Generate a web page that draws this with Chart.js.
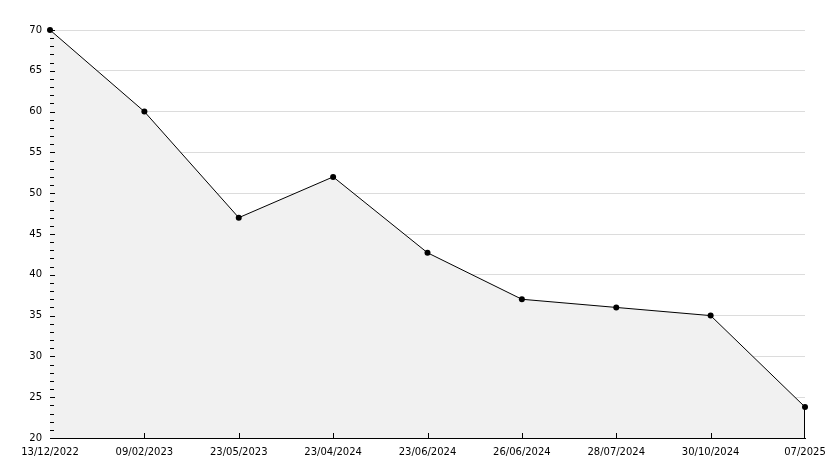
<!DOCTYPE html>
<html>
<head>
<meta charset="utf-8">
<script src="https://cdn.jsdelivr.net/npm/chart.js@4"></script>
<style>
  body { margin: 0; background: #fff; }
  canvas { display: block; }
</style>
</head>
<body>
<canvas id="grafico" width="834" height="468"></canvas>
<script>
const datas = ['13/12/2022', '09/02/2023', '23/05/2023', '23/04/2024', '23/06/2024', '26/06/2024', '28/07/2024', '30/10/2024', '07/2025'];
const valores = [70, 60, 47, 52, 42.7, 37, 36, 35, 23.8];
const eixoY = { min: 20, max: 70, passo: 5 };

const fonte = { family: 'DejaVu Sans', size: 10 };

// marquinhas do eixo pra dentro + borda direita da area
const marcasEixo = {
  id: 'marcasEixo',
  afterDatasetsDraw(chart) {
    const ctx = chart.ctx;
    const x = chart.scales.x;
    const y = chart.scales.y;
    const area = chart.chartArea;
    ctx.save();
    ctx.strokeStyle = '#000';
    ctx.lineWidth = 1;
    ctx.beginPath();
    for (let v = eixoY.min + 1; v <= eixoY.max; v++) {
      const py = Math.round(y.getPixelForValue(v)) + 0.5;
      const tam = v % eixoY.passo === 0 ? 5 : 4;
      ctx.moveTo(area.left, py);
      ctx.lineTo(area.left + tam, py);
    }
    for (let i = 1; i < datas.length - 1; i++) {
      const px = Math.round(x.getPixelForValue(i)) + 0.5;
      ctx.moveTo(px, area.bottom);
      ctx.lineTo(px, area.bottom - 5);
    }
    const ult = datas.length - 1;
    const pxu = Math.round(x.getPixelForValue(ult)) - 0.5;
    ctx.moveTo(pxu, y.getPixelForValue(valores[ult]));
    ctx.lineTo(pxu, area.bottom);
    ctx.stroke();
    ctx.restore();
  }
};

const grafico = new Chart(document.getElementById('grafico').getContext('2d'), {
  type: 'line',
  data: {
    labels: datas,
    datasets: [{
      data: valores,
      borderColor: '#000',
      borderWidth: 1,
      backgroundColor: '#f1f1f1',
      fill: 'origin',
      tension: 0,
      clip: false,
      pointRadius: 3,
      pointStyle: 'circle',
      pointBackgroundColor: '#000',
      pointBorderColor: '#000',
      pointBorderWidth: 0
    }]
  },
  options: {
    responsive: false,
    animation: false,
    devicePixelRatio: 1,
    layout: { padding: { top: 30, right: 29, left: 0, bottom: 0 } },
    plugins: {
      legend: { display: false },
      tooltip: { enabled: false }
    },
    scales: {
      x: {
        type: 'category',
        offset: false,
        grid: { display: false },
        border: { color: '#000', width: 1 },
        ticks: { color: '#000', font: fonte, maxRotation: 0, autoSkip: false, padding: 0 },
        afterFit(s) { s.height = 30; }
      },
      y: {
        min: eixoY.min,
        max: eixoY.max,
        grid: { color: '#dcdcdc', drawTicks: false },
        border: { color: '#000', width: 1 },
        ticks: { stepSize: eixoY.passo, color: '#000', font: fonte, padding: 8 },
        afterFit(s) { s.width = 50; }
      }
    }
  },
  plugins: [marcasEixo]
});
</script>
</body>
</html>
